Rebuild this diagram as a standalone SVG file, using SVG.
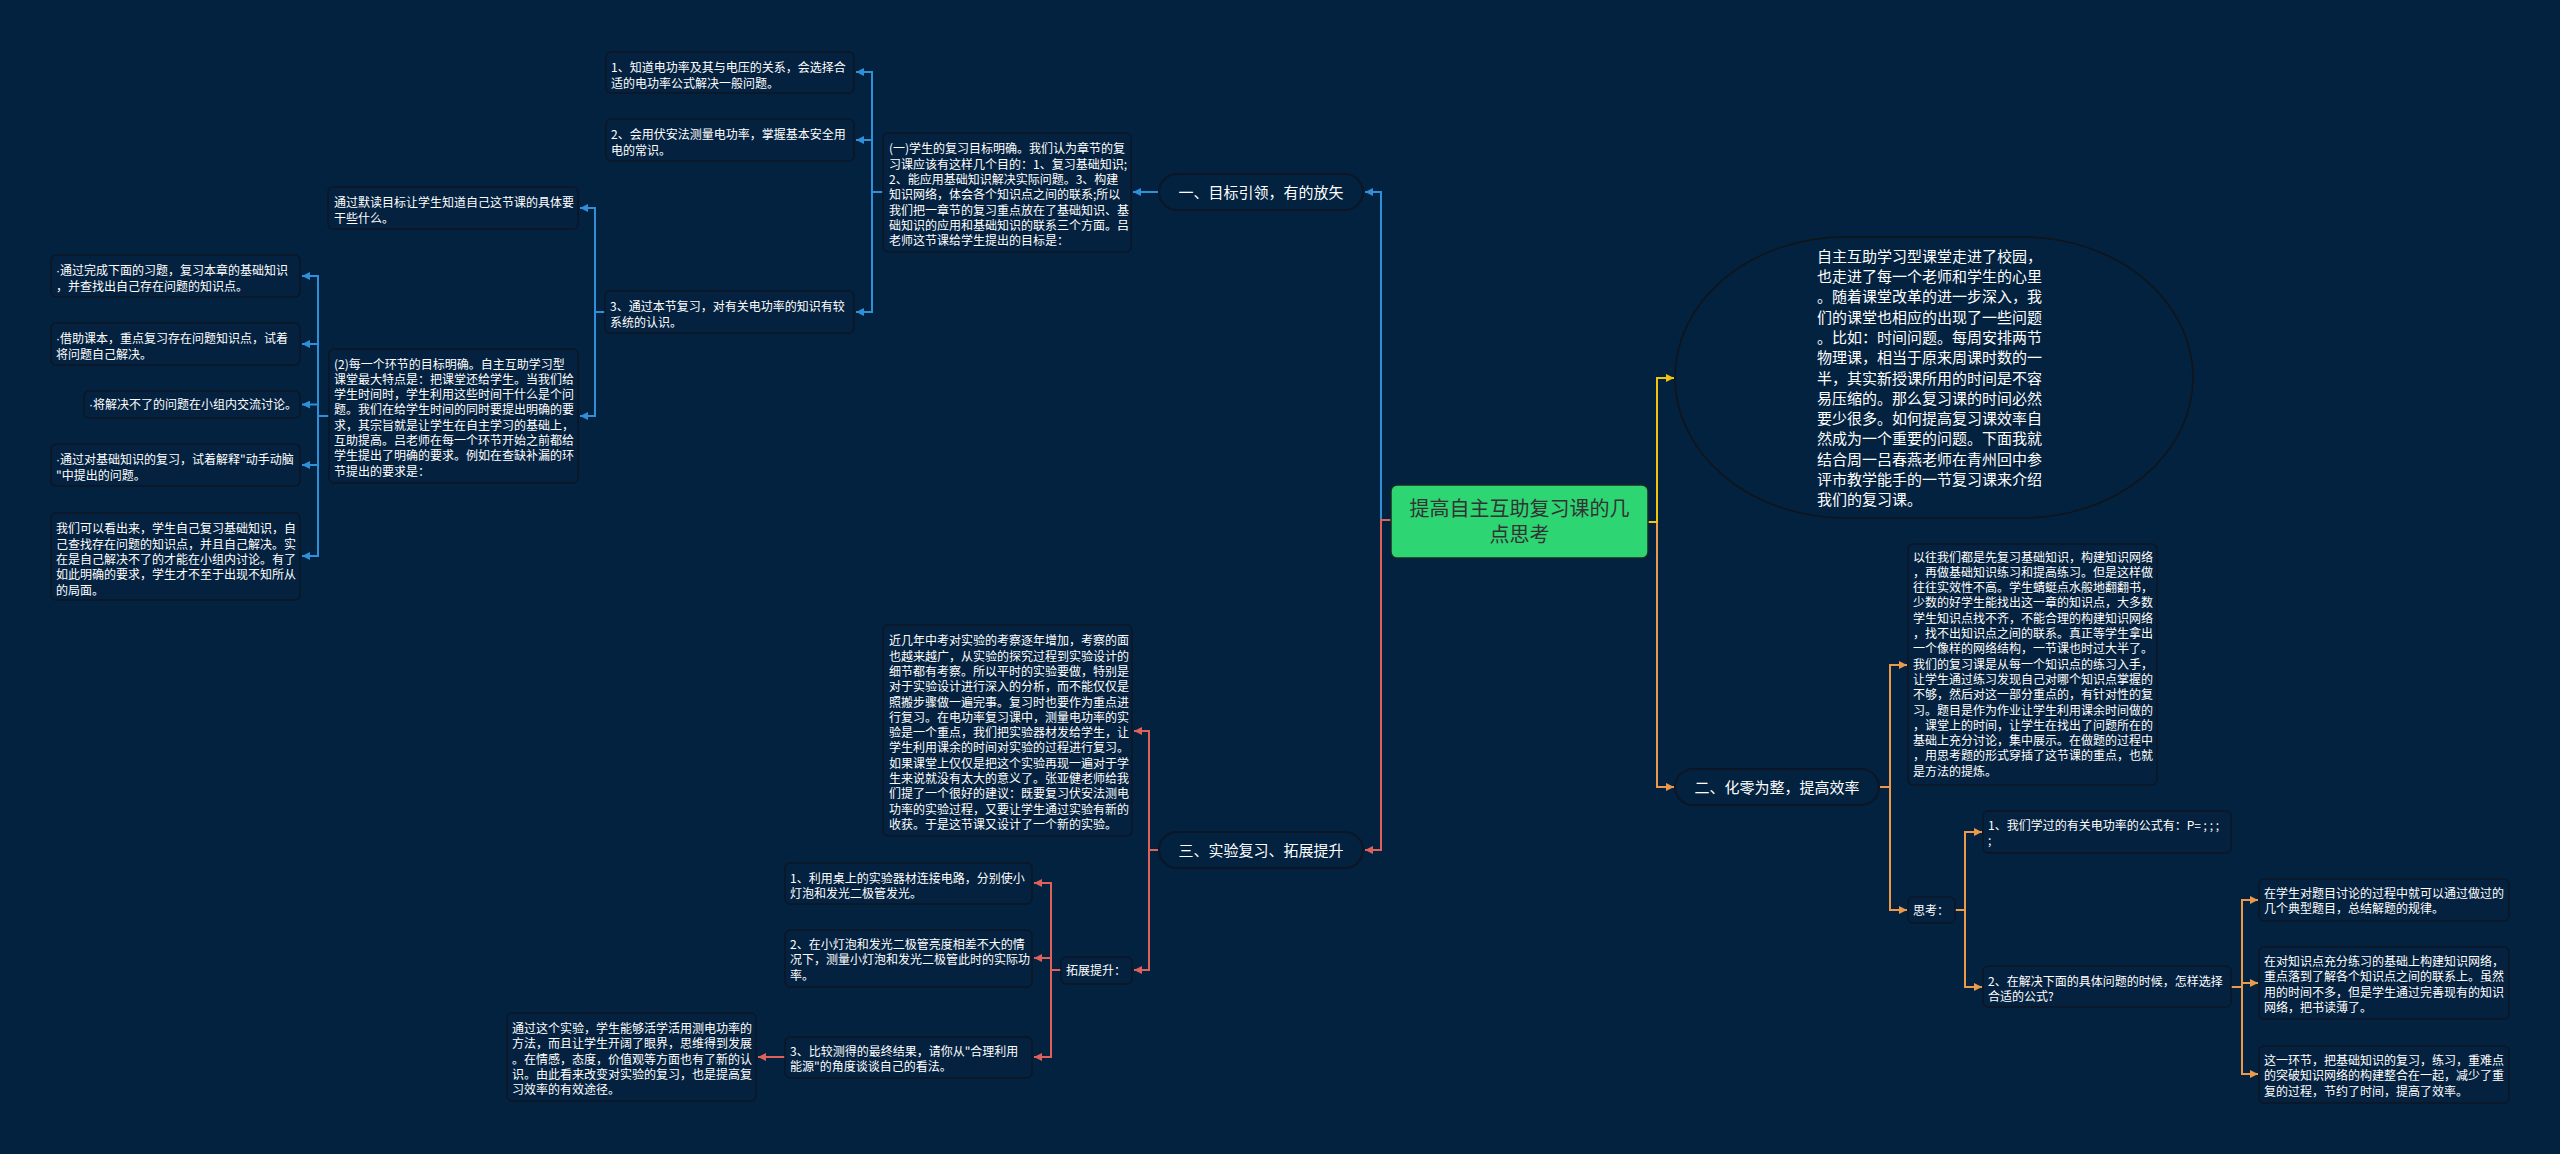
<svg xmlns="http://www.w3.org/2000/svg" width="2560" height="1154" viewBox="0 0 2560 1154">
<style>
.bg{fill:#03223f}
.box{fill:#04223f;stroke:#0c1626;stroke-width:1.5}
.cap{fill:#03223f;stroke:#0c1626;stroke-width:2}
.t{font-family:"Noto Sans CJK SC","Microsoft YaHei",sans-serif;font-size:12px;fill:#ffffff}
.d{font-family:"Liberation Sans",sans-serif}
.ct{font-family:"Noto Sans CJK SC","Microsoft YaHei",sans-serif;font-size:15px;fill:#ffffff;text-anchor:middle}
.et{font-family:"Noto Sans CJK SC","Microsoft YaHei",sans-serif;font-size:15px;fill:#ffffff}
.mt{font-family:"Noto Sans CJK SC","Microsoft YaHei",sans-serif;font-size:20px;fill:#333333;text-anchor:middle}
.c{fill:none;stroke-width:2}
.cb{stroke:#2f8fd8}
.cr{stroke:#e0605a}
.co{stroke:#eb9a4c}
.cy{stroke:#f1c40f}
</style>
<defs>
<marker id="ab" markerUnits="userSpaceOnUse" markerWidth="8" markerHeight="8" refX="8" refY="4" orient="auto"><path d="M0,0 L8,4 L0,8 z" fill="#2f8fd8"/></marker>
<marker id="ar" markerUnits="userSpaceOnUse" markerWidth="8" markerHeight="8" refX="8" refY="4" orient="auto"><path d="M0,0 L8,4 L0,8 z" fill="#e0605a"/></marker>
<marker id="ao" markerUnits="userSpaceOnUse" markerWidth="8" markerHeight="8" refX="8" refY="4" orient="auto"><path d="M0,0 L8,4 L0,8 z" fill="#eb9a4c"/></marker>
<marker id="ay" markerUnits="userSpaceOnUse" markerWidth="8" markerHeight="8" refX="8" refY="4" orient="auto"><path d="M0,0 L8,4 L0,8 z" fill="#f1c40f"/></marker>
</defs>
<rect class="bg" x="0" y="0" width="2560" height="1154"/>

<g id="connectors">
<g class="c cb" marker-end="url(#ab)">
<path d="M1391 520 H1381 V192 H1365"/>
<path d="M1159 192 H1133"/>
<path d="M883 192 H872 V72 H856"/>
<path d="M883 192 H872 V140 H856"/>
<path d="M883 192 H872 V312 H856"/>
<path d="M605 312 H595 V208 H580"/>
<path d="M605 312 H595 V416 H580"/>
<path d="M329 416 H318 V276 H302"/>
<path d="M329 416 H318 V344 H302"/>
<path d="M329 416 H318 V404.5 H302"/>
<path d="M329 416 H318 V465 H302"/>
<path d="M329 416 H318 V556 H302"/>
</g>
<g class="c cr" marker-end="url(#ar)">
<path d="M1391 520 H1381 V850 H1365"/>
<path d="M1159 850 H1149 V731 H1134"/>
<path d="M1159 850 H1149 V970 H1134"/>
<path d="M1061 970 H1051 V883 H1034"/>
<path d="M1061 970 H1051 V958 H1034"/>
<path d="M1061 970 H1051 V1057 H1034"/>
<path d="M785 1057 H758"/>
</g>
<g class="c co" marker-end="url(#ao)">
<path d="M1648 522 H1657 V787 H1674"/>
<path d="M1879 787 H1890 V665 H1907"/>
<path d="M1879 787 H1890 V910 H1907"/>
<path d="M1955 910 H1965 V832 H1982"/>
<path d="M1955 910 H1965 V987 H1982"/>
<path d="M2231 987 H2242 V900 H2258"/>
<path d="M2231 987 H2242 V983 H2258"/>
<path d="M2231 987 H2242 V1074 H2258"/>
</g>
<g class="c cy" marker-end="url(#ay)">
<path d="M1648 522 H1657 V378 H1674"/>
</g>
</g>

<g id="root">
<rect x="1391" y="485" width="257" height="73" rx="6" fill="#2ed573" stroke="#1b2a22" stroke-width="1.5"/>
<text class="mt"><tspan x="1519.5" y="515.6">提高自主互助复习课的几</tspan><tspan x="1519.5" dy="26">点思考</tspan></text>
</g>

<g id="intro">
<rect x="1675" y="237" width="518" height="281" rx="170" ry="140.5" fill="#03223f" stroke="#111418" stroke-width="1.5"/>
<text class="et"><tspan x="1817" y="261.7">自主互助学习型课堂走进了校园，</tspan><tspan x="1817" dy="20.3">也走进了每一个老师和学生的心里</tspan><tspan x="1817" dy="20.3">。随着课堂改革的进一步深入，我</tspan><tspan x="1817" dy="20.3">们的课堂也相应的出现了一些问题</tspan><tspan x="1817" dy="20.3">。比如：时间问题。每周安排两节</tspan><tspan x="1817" dy="20.3">物理课，相当于原来周课时数的一</tspan><tspan x="1817" dy="20.3">半，其实新授课所用的时间是不容</tspan><tspan x="1817" dy="20.3">易压缩的。那么复习课的时间必然</tspan><tspan x="1817" dy="20.3">要少很多。如何提高复习课效率自</tspan><tspan x="1817" dy="20.3">然成为一个重要的问题。下面我就</tspan><tspan x="1817" dy="20.3">结合周一吕春燕老师在青州回中参</tspan><tspan x="1817" dy="20.3">评市教学能手的一节复习课来介绍</tspan><tspan x="1817" dy="20.3">我们的复习课。</tspan></text>
</g>

<g id="b1">
<rect class="cap" x="1159" y="174" width="204" height="36" rx="18"/>
<text class="ct" x="1261" y="197.7">一、目标引领，有的放矢</text>
</g>
<g id="b1-1">
<rect class="box" x="883" y="133" width="248" height="119" rx="5"/>
<text class="t"><tspan x="889" y="153.3">(一)学生的复习目标明确。我们认为章节的复</tspan><tspan x="889" dy="15.3">习课应该有这样几个目的：1、复习基础知识;</tspan><tspan x="889" dy="15.3">2、能应用基础知识解决实际问题。3、构建</tspan><tspan x="889" dy="15.3">知识网络，体会各个知识点之间的联系;所以</tspan><tspan x="889" dy="15.3">我们把一章节的复习重点放在了基础知识、基</tspan><tspan x="889" dy="15.3">础知识的应用和基础知识的联系三个方面。吕</tspan><tspan x="889" dy="15.3">老师这节课给学生提出的目标是：</tspan></text>
</g>
<g id="n1">
<rect class="box" x="606" y="52" width="248" height="41" rx="5"/>
<text class="t"><tspan x="611" y="72.3">1、知道电功率及其与电压的关系，会选择合</tspan><tspan x="611" dy="15.3">适的电功率公式解决一般问题。</tspan></text>
</g>
<g id="n2">
<rect class="box" x="606" y="119" width="248" height="42" rx="5"/>
<text class="t"><tspan x="611" y="139.3">2、会用伏安法测量电功率，掌握基本安全用</tspan><tspan x="611" dy="15.3">电的常识。</tspan></text>
</g>
<g id="n3">
<rect class="box" x="605" y="291" width="249" height="42" rx="5"/>
<text class="t"><tspan x="610" y="311.3">3、通过本节复习，对有关电功率的知识有较</tspan><tspan x="610" dy="15.3">系统的认识。</tspan></text>
</g>
<g id="m1">
<rect class="box" x="328" y="187" width="250" height="42" rx="5"/>
<text class="t"><tspan x="334" y="207.3">通过默读目标让学生知道自己这节课的具体要</tspan><tspan x="334" dy="15.3">干些什么。</tspan></text>
</g>
<g id="p2">
<rect class="box" x="329" y="349" width="249" height="134" rx="5"/>
<text class="t"><tspan x="334" y="368.5">(2)每一个环节的目标明确。自主互助学习型</tspan><tspan x="334" dy="15.3">课堂最大特点是：把课堂还给学生。当我们给</tspan><tspan x="334" dy="15.3">学生时间时，学生利用这些时间干什么是个问</tspan><tspan x="334" dy="15.3">题。我们在给学生时间的同时要提出明确的要</tspan><tspan x="334" dy="15.3">求，其宗旨就是让学生在自主学习的基础上，</tspan><tspan x="334" dy="15.3">互助提高。吕老师在每一个环节开始之前都给</tspan><tspan x="334" dy="15.3">学生提出了明确的要求。例如在查缺补漏的环</tspan><tspan x="334" dy="15.3">节提出的要求是：</tspan></text>
</g>
<g id="l1">
<rect class="box" x="51" y="255" width="249" height="42" rx="5"/>
<text class="t"><tspan x="56" y="275.3"><tspan class="d">·</tspan>通过完成下面的习题，复习本章的基础知识</tspan><tspan x="56" dy="15.3">，并查找出自己存在问题的知识点。</tspan></text>
</g>
<g id="l2">
<rect class="box" x="51" y="323" width="249" height="42" rx="5"/>
<text class="t"><tspan x="56" y="343.3"><tspan class="d">·</tspan>借助课本，重点复习存在问题知识点，试着</tspan><tspan x="56" dy="15.3">将问题自己解决。</tspan></text>
</g>
<g id="l3">
<rect class="box" x="84" y="391" width="216" height="27" rx="5"/>
<text class="t" x="89" y="409"><tspan class="d">·</tspan>将解决不了的问题在小组内交流讨论。</text>
</g>
<g id="l4">
<rect class="box" x="51" y="444" width="249" height="42" rx="5"/>
<text class="t"><tspan x="56" y="464.3"><tspan class="d">·</tspan>通过对基础知识的复习，试着解释"动手动脑</tspan><tspan x="56" dy="15.3">"中提出的问题。</tspan></text>
</g>
<g id="l5">
<rect class="box" x="51" y="513" width="249" height="87" rx="5"/>
<text class="t"><tspan x="56" y="533.3">我们可以看出来，学生自己复习基础知识，自</tspan><tspan x="56" dy="15.3">己查找存在问题的知识点，并且自己解决。实</tspan><tspan x="56" dy="15.3">在是自己解决不了的才能在小组内讨论。有了</tspan><tspan x="56" dy="15.3">如此明确的要求，学生才不至于出现不知所从</tspan><tspan x="56" dy="15.3">的局面。</tspan></text>
</g>

<g id="b3">
<rect class="cap" x="1159" y="832" width="204" height="36" rx="18"/>
<text class="ct" x="1261" y="855.7">三、实验复习、拓展提升</text>
</g>
<g id="b3-1">
<rect class="box" x="883" y="625" width="249" height="211" rx="5"/>
<text class="t"><tspan x="889" y="645.3">近几年中考对实验的考察逐年增加，考察的面</tspan><tspan x="889" dy="15.3">也越来越广，从实验的探究过程到实验设计的</tspan><tspan x="889" dy="15.3">细节都有考察。所以平时的实验要做，特别是</tspan><tspan x="889" dy="15.3">对于实验设计进行深入的分析，而不能仅仅是</tspan><tspan x="889" dy="15.3">照搬步骤做一遍完事。复习时也要作为重点进</tspan><tspan x="889" dy="15.3">行复习。在电功率复习课中，测量电功率的实</tspan><tspan x="889" dy="15.3">验是一个重点，我们把实验器材发给学生，让</tspan><tspan x="889" dy="15.3">学生利用课余的时间对实验的过程进行复习。</tspan><tspan x="889" dy="15.3">如果课堂上仅仅是把这个实验再现一遍对于学</tspan><tspan x="889" dy="15.3">生来说就没有太大的意义了。张亚健老师给我</tspan><tspan x="889" dy="15.3">们提了一个很好的建议：既要复习伏安法测电</tspan><tspan x="889" dy="15.3">功率的实验过程，又要让学生通过实验有新的</tspan><tspan x="889" dy="15.3">收获。于是这节课又设计了一个新的实验。</tspan></text>
</g>
<g id="tz">
<rect class="box" x="1061" y="957" width="71" height="27" rx="5"/>
<text class="t" x="1066" y="975">拓展提升：</text>
</g>
<g id="e1">
<rect class="box" x="785" y="863" width="247" height="41" rx="5"/>
<text class="t"><tspan x="790" y="882.6">1、利用桌上的实验器材连接电路，分别使小</tspan><tspan x="790" dy="15.3">灯泡和发光二极管发光。</tspan></text>
</g>
<g id="e2">
<rect class="box" x="785" y="930" width="247" height="57" rx="5"/>
<text class="t"><tspan x="790" y="949">2、在小灯泡和发光二极管亮度相差不大的情</tspan><tspan x="790" dy="15.3">况下，测量小灯泡和发光二极管此时的实际功</tspan><tspan x="790" dy="15.3">率。</tspan></text>
</g>
<g id="e3">
<rect class="box" x="785" y="1037" width="247" height="41" rx="5"/>
<text class="t"><tspan x="790" y="1055.5">3、比较测得的最终结果，请你从"合理利用</tspan><tspan x="790" dy="15.3">能源"的角度谈谈自己的看法。</tspan></text>
</g>
<g id="f1">
<rect class="box" x="507" y="1013" width="249" height="88" rx="5"/>
<text class="t"><tspan x="512" y="1033">通过这个实验，学生能够活学活用测电功率的</tspan><tspan x="512" dy="15.3">方法，而且让学生开阔了眼界，思维得到发展</tspan><tspan x="512" dy="15.3">。在情感，态度，价值观等方面也有了新的认</tspan><tspan x="512" dy="15.3">识。由此看来改变对实验的复习，也是提高复</tspan><tspan x="512" dy="15.3">习效率的有效途径。</tspan></text>
</g>

<g id="b2">
<rect class="cap" x="1675" y="769" width="204" height="36" rx="18"/>
<text class="ct" x="1777" y="792.7">二、化零为整，提高效率</text>
</g>
<g id="b2-1">
<rect class="box" x="1908" y="544" width="249" height="241" rx="5"/>
<text class="t"><tspan x="1913" y="561.5">以往我们都是先复习基础知识，构建知识网络</tspan><tspan x="1913" dy="15.3">，再做基础知识练习和提高练习。但是这样做</tspan><tspan x="1913" dy="15.3">往往实效性不高。学生蜻蜓点水般地翻翻书，</tspan><tspan x="1913" dy="15.3">少数的好学生能找出这一章的知识点，大多数</tspan><tspan x="1913" dy="15.3">学生知识点找不齐，不能合理的构建知识网络</tspan><tspan x="1913" dy="15.3">，找不出知识点之间的联系。真正等学生拿出</tspan><tspan x="1913" dy="15.3">一个像样的网络结构，一节课也时过大半了。</tspan><tspan x="1913" dy="15.3">我们的复习课是从每一个知识点的练习入手，</tspan><tspan x="1913" dy="15.3">让学生通过练习发现自己对哪个知识点掌握的</tspan><tspan x="1913" dy="15.3">不够，然后对这一部分重点的，有针对性的复</tspan><tspan x="1913" dy="15.3">习。题目是作为作业让学生利用课余时间做的</tspan><tspan x="1913" dy="15.3">，课堂上的时间，让学生在找出了问题所在的</tspan><tspan x="1913" dy="15.3">基础上充分讨论，集中展示。在做题的过程中</tspan><tspan x="1913" dy="15.3">，用思考题的形式穿插了这节课的重点，也就</tspan><tspan x="1913" dy="15.3">是方法的提炼。</tspan></text>
</g>
<g id="sk">
<rect class="box" x="1908" y="897" width="47" height="26" rx="5"/>
<text class="t" x="1913" y="914.5">思考：</text>
</g>
<g id="t1">
<rect class="box" x="1983" y="811" width="248" height="42" rx="5"/>
<text class="t"><tspan x="1988" y="830">1、我们学过的有关电功率的公式有：P= ; ; ;</tspan><tspan x="1988" dy="15.3">;</tspan></text>
</g>
<g id="t2">
<rect class="box" x="1983" y="966" width="248" height="41" rx="5"/>
<text class="t"><tspan x="1988" y="985.5">2、在解决下面的具体问题的时候，怎样选择</tspan><tspan x="1988" dy="15.3">合适的公式?</tspan></text>
</g>
<g id="s1">
<rect class="box" x="2259" y="879" width="250" height="42" rx="5"/>
<text class="t"><tspan x="2264" y="898">在学生对题目讨论的过程中就可以通过做过的</tspan><tspan x="2264" dy="15.3">几个典型题目，总结解题的规律。</tspan></text>
</g>
<g id="s2">
<rect class="box" x="2259" y="947" width="250" height="72" rx="5"/>
<text class="t"><tspan x="2264" y="966">在对知识点充分练习的基础上构建知识网络，</tspan><tspan x="2264" dy="15.3">重点落到了解各个知识点之间的联系上。虽然</tspan><tspan x="2264" dy="15.3">用的时间不多，但是学生通过完善现有的知识</tspan><tspan x="2264" dy="15.3">网络，把书读薄了。</tspan></text>
</g>
<g id="s3">
<rect class="box" x="2259" y="1046" width="250" height="57" rx="5"/>
<text class="t"><tspan x="2264" y="1065">这一环节，把基础知识的复习，练习，重难点</tspan><tspan x="2264" dy="15.3">的突破知识网络的构建整合在一起，减少了重</tspan><tspan x="2264" dy="15.3">复的过程，节约了时间，提高了效率。</tspan></text>
</g>
</svg>
